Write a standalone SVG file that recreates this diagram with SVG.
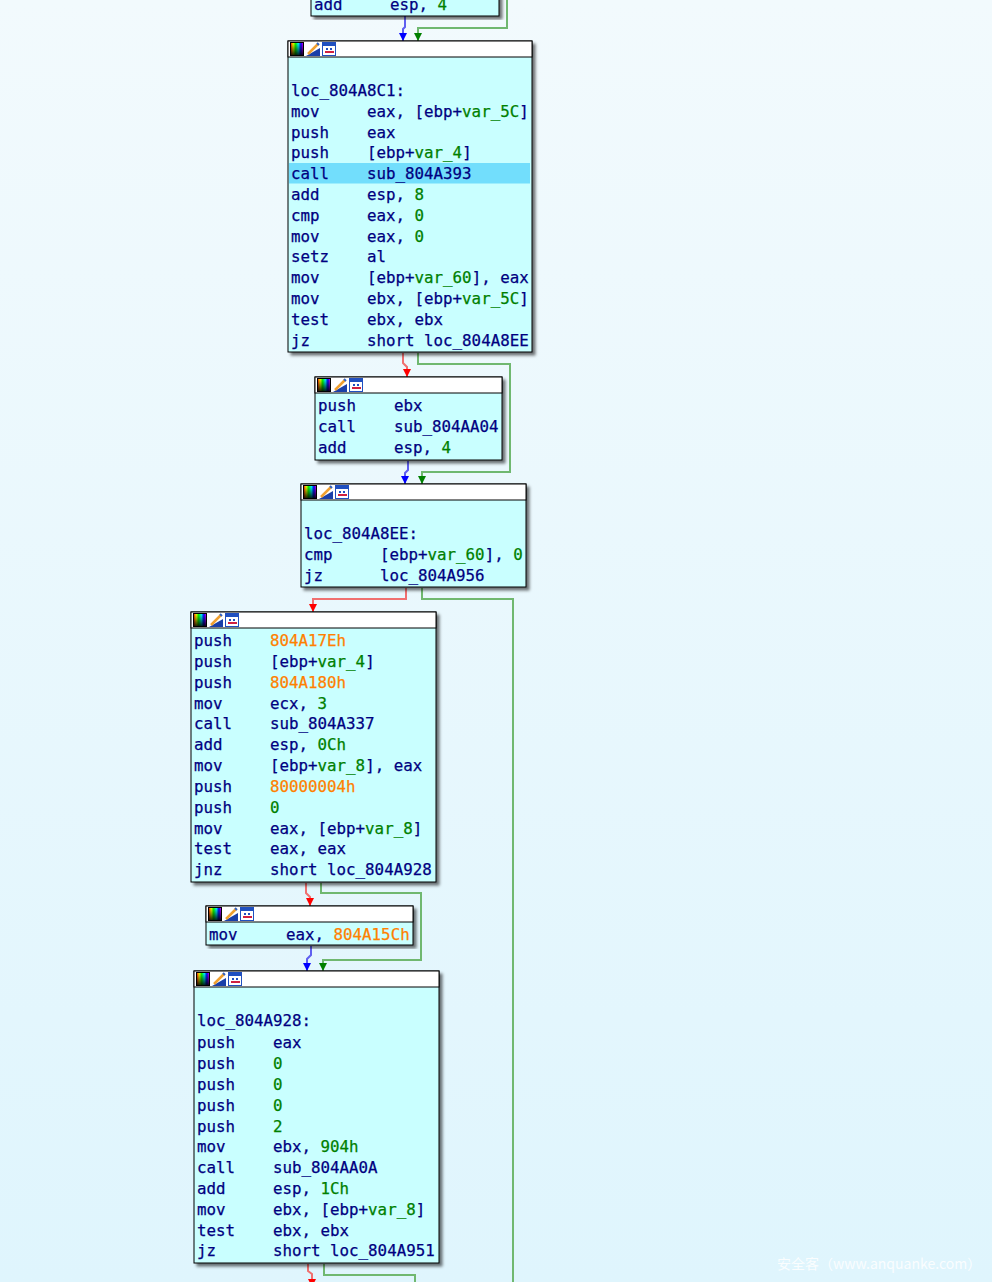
<svg xmlns="http://www.w3.org/2000/svg" width="992" height="1282" viewBox="0 0 992 1282">
<style>
text{font-family:"DejaVu Sans Mono","Liberation Mono",monospace;font-size:15.8px;fill:#000080;stroke:#000080;stroke-width:0.25px;transform:translateY(0.5px)}
.n{fill:#008000;stroke:#008000}
.o{fill:#ff8000;stroke:#ff8000}
.box{fill:#c9ffff;stroke:#000;stroke-width:1;filter:url(#sh)}
.hd{fill:#fff;stroke:#000;stroke-width:1}
.cr{fill:none;stroke:#f07070;stroke-width:2}
.cg{fill:none;stroke:#70b870;stroke-width:2}
.cb{fill:none;stroke:#6060f0;stroke-width:2}
text.wm{font-family:"Noto Sans CJK SC","Noto Sans",sans-serif;font-size:14px;fill:#ffffff;fill-opacity:0.85;stroke:none}
</style>
<defs>
<linearGradient id="bg" x1="0" y1="0" x2="0" y2="1">
<stop offset="0" stop-color="#f2fafd"/>
<stop offset="1" stop-color="#dff5fd"/>
</linearGradient>
<linearGradient id="rb" x1="0" y1="0" x2="1" y2="0">
<stop offset="0" stop-color="#ff0000"/>
<stop offset="0.2" stop-color="#ffff00"/>
<stop offset="0.4" stop-color="#00ff00"/>
<stop offset="0.6" stop-color="#00ffff"/>
<stop offset="0.8" stop-color="#0000ff"/>
<stop offset="1" stop-color="#ff00ff"/>
</linearGradient>
<linearGradient id="dk" x1="0" y1="0" x2="0" y2="1">
<stop offset="0" stop-color="#000" stop-opacity="0"/>
<stop offset="1" stop-color="#000" stop-opacity="0.85"/>
</linearGradient>
<filter id="sh" x="-10%" y="-10%" width="120%" height="120%">
<feDropShadow dx="3" dy="3" stdDeviation="1.5" flood-color="#000" flood-opacity="0.55"/>
</filter>
<symbol id="ic" viewBox="0 0 46 14" width="46" height="14">
<rect x="0.5" y="0.5" width="13" height="13" fill="url(#rb)" stroke="#000"/>
<rect x="1" y="1" width="12" height="12" fill="url(#dk)"/>
<rect x="16" y="0" width="14" height="14" fill="#fff"/>
<polygon points="16,14 30,14 30,6" fill="#1a3fa8"/>
<line x1="18" y1="12" x2="28" y2="2" stroke="#f0a030" stroke-width="2.5"/>
<line x1="27" y1="1" x2="29" y2="3" stroke="#3060c0" stroke-width="2"/>
<rect x="32.5" y="0.5" width="13" height="13" fill="#fff" stroke="#2050c0"/>
<rect x="33" y="1" width="12" height="3" fill="#2050c0"/>
<rect x="35" y="9" width="9" height="2" fill="#d02040"/>
<rect x="36" y="6" width="2" height="2" fill="#2050c0"/>
<rect x="40" y="6" width="2" height="2" fill="#2050c0"/>
</symbol>
<marker id="ar" viewBox="0 0 8 8" refX="8" refY="4" markerWidth="8" markerHeight="8" markerUnits="userSpaceOnUse" orient="auto"><path d="M0,0 L8,4 L0,8 z" fill="#ff0000"/></marker>
<marker id="ag" viewBox="0 0 8 8" refX="8" refY="4" markerWidth="8" markerHeight="8" markerUnits="userSpaceOnUse" orient="auto"><path d="M0,0 L8,4 L0,8 z" fill="#008000"/></marker>
<marker id="ab" viewBox="0 0 8 8" refX="8" refY="4" markerWidth="8" markerHeight="8" markerUnits="userSpaceOnUse" orient="auto"><path d="M0,0 L8,4 L0,8 z" fill="#0000ff"/></marker>
</defs>
<rect x="0" y="0" width="992" height="1282" fill="url(#bg)"/>

<g id="connectors">
<path class="cb" d="M405,16 V27 L403,29 V41" marker-end="url(#ab)"/>
<path class="cg" d="M507,0 V28 H418 V41" marker-end="url(#ag)"/>
<path class="cr" d="M403,353 V363 L407,367 V377" marker-end="url(#ar)"/>
<path class="cg" d="M418,353 V364 H510 V472 H422 V484" marker-end="url(#ag)"/>
<path class="cb" d="M408,461 V470 L405,473 V484" marker-end="url(#ab)"/>
<path class="cr" d="M406,588 V599 H313 V612" marker-end="url(#ar)"/>
<path class="cg" d="M422,588 V599 H513 V1290"/>
<path class="cr" d="M306,883 V893 L310,897 V906" marker-end="url(#ar)"/>
<path class="cg" d="M321,883 V893 H421 V960 H323 V971" marker-end="url(#ag)"/>
<path class="cb" d="M311,946 V955 L307,959 V971" marker-end="url(#ab)"/>
<path class="cr" d="M308,1264 V1271 L312,1274 V1287" marker-end="url(#ar)"/>
<path class="cg" d="M324,1264 V1275 H415 V1290"/>
</g>

<g id="nodeA">
<rect class="box" x="311" y="-20" width="188" height="36"/>
<text x="314" y="9">add<tspan x="390">esp, <tspan class="n">4</tspan></tspan></text>
</g>

<g id="nodeB">
<rect class="box" x="288" y="41" width="244" height="311"/>
<rect class="hd" x="288" y="41" width="244" height="16"/>
<use href="#ic" x="290" y="42"/>
<rect x="289" y="163" width="241" height="20.5" fill="#72defc"/>
<text x="291" y="95">loc_804A8C1:</text>
<text x="291" y="116">mov<tspan x="367">eax, [ebp+<tspan class="n">var_5C</tspan>]</tspan></text>
<text x="291" y="137">push<tspan x="367">eax</tspan></text>
<text x="291" y="157">push<tspan x="367">[ebp+<tspan class="n">var_4</tspan>]</tspan></text>
<text x="291" y="178">call<tspan x="367">sub_804A393</tspan></text>
<text x="291" y="199">add<tspan x="367">esp, <tspan class="n">8</tspan></tspan></text>
<text x="291" y="220">cmp<tspan x="367">eax, <tspan class="n">0</tspan></tspan></text>
<text x="291" y="241">mov<tspan x="367">eax, <tspan class="n">0</tspan></tspan></text>
<text x="291" y="261">setz<tspan x="367">al</tspan></text>
<text x="291" y="282">mov<tspan x="367">[ebp+<tspan class="n">var_60</tspan>], eax</tspan></text>
<text x="291" y="303">mov<tspan x="367">ebx, [ebp+<tspan class="n">var_5C</tspan>]</tspan></text>
<text x="291" y="324">test<tspan x="367">ebx, ebx</tspan></text>
<text x="291" y="345">jz<tspan x="367">short loc_804A8EE</tspan></text>
</g>

<g id="nodeC">
<rect class="box" x="315" y="377" width="187" height="83"/>
<rect class="hd" x="315" y="377" width="187" height="16"/>
<use href="#ic" x="317" y="378"/>
<text x="318" y="410">push<tspan x="394">ebx</tspan></text>
<text x="318" y="431">call<tspan x="394">sub_804AA04</tspan></text>
<text x="318" y="452">add<tspan x="394">esp, <tspan class="n">4</tspan></tspan></text>
</g>

<g id="nodeD">
<rect class="box" x="301" y="484" width="225" height="103"/>
<rect class="hd" x="301" y="484" width="225" height="16"/>
<use href="#ic" x="303" y="485"/>
<text x="304" y="538">loc_804A8EE:</text>
<text x="304" y="559">cmp<tspan x="380">[ebp+<tspan class="n">var_60</tspan>], <tspan class="n">0</tspan></tspan></text>
<text x="304" y="580">jz<tspan x="380">loc_804A956</tspan></text>
</g>

<g id="nodeE">
<rect class="box" x="191" y="612" width="245" height="270"/>
<rect class="hd" x="191" y="612" width="245" height="16"/>
<use href="#ic" x="193" y="613"/>
<text x="194" y="645">push<tspan x="270" class="o">804A17Eh</tspan></text>
<text x="194" y="666">push<tspan x="270">[ebp+<tspan class="n">var_4</tspan>]</tspan></text>
<text x="194" y="687">push<tspan x="270" class="o">804A180h</tspan></text>
<text x="194" y="708">mov<tspan x="270">ecx, <tspan class="n">3</tspan></tspan></text>
<text x="194" y="728">call<tspan x="270">sub_804A337</tspan></text>
<text x="194" y="749">add<tspan x="270">esp, <tspan class="n">0Ch</tspan></tspan></text>
<text x="194" y="770">mov<tspan x="270">[ebp+<tspan class="n">var_8</tspan>], eax</tspan></text>
<text x="194" y="791">push<tspan x="270" class="o">80000004h</tspan></text>
<text x="194" y="812">push<tspan x="270" class="n">0</tspan></text>
<text x="194" y="833">mov<tspan x="270">eax, [ebp+<tspan class="n">var_8</tspan>]</tspan></text>
<text x="194" y="853">test<tspan x="270">eax, eax</tspan></text>
<text x="194" y="874">jnz<tspan x="270">short loc_804A928</tspan></text>
</g>

<g id="nodeF">
<rect class="box" x="206" y="906" width="207" height="39"/>
<rect class="hd" x="206" y="906" width="207" height="16"/>
<use href="#ic" x="208" y="907"/>
<text x="209" y="939">mov<tspan x="286">eax, <tspan class="o">804A15Ch</tspan></tspan></text>
</g>

<g id="nodeG">
<rect class="box" x="194" y="971" width="245" height="292"/>
<rect class="hd" x="194" y="971" width="245" height="16"/>
<use href="#ic" x="196" y="972"/>
<text x="197" y="1025">loc_804A928:</text>
<text x="197" y="1047">push<tspan x="273">eax</tspan></text>
<text x="197" y="1068">push<tspan x="273" class="n">0</tspan></text>
<text x="197" y="1089">push<tspan x="273" class="n">0</tspan></text>
<text x="197" y="1110">push<tspan x="273" class="n">0</tspan></text>
<text x="197" y="1131">push<tspan x="273" class="n">2</tspan></text>
<text x="197" y="1151">mov<tspan x="273">ebx, <tspan class="n">904h</tspan></tspan></text>
<text x="197" y="1172">call<tspan x="273">sub_804AA0A</tspan></text>
<text x="197" y="1193">add<tspan x="273">esp, <tspan class="n">1Ch</tspan></tspan></text>
<text x="197" y="1214">mov<tspan x="273">ebx, [ebp+<tspan class="n">var_8</tspan>]</tspan></text>
<text x="197" y="1235">test<tspan x="273">ebx, ebx</tspan></text>
<text x="197" y="1255">jz<tspan x="273">short loc_804A951</tspan></text>
</g>

<text class="wm" x="777" y="1268">安全客（www.anquanke.com）</text>
</svg>
